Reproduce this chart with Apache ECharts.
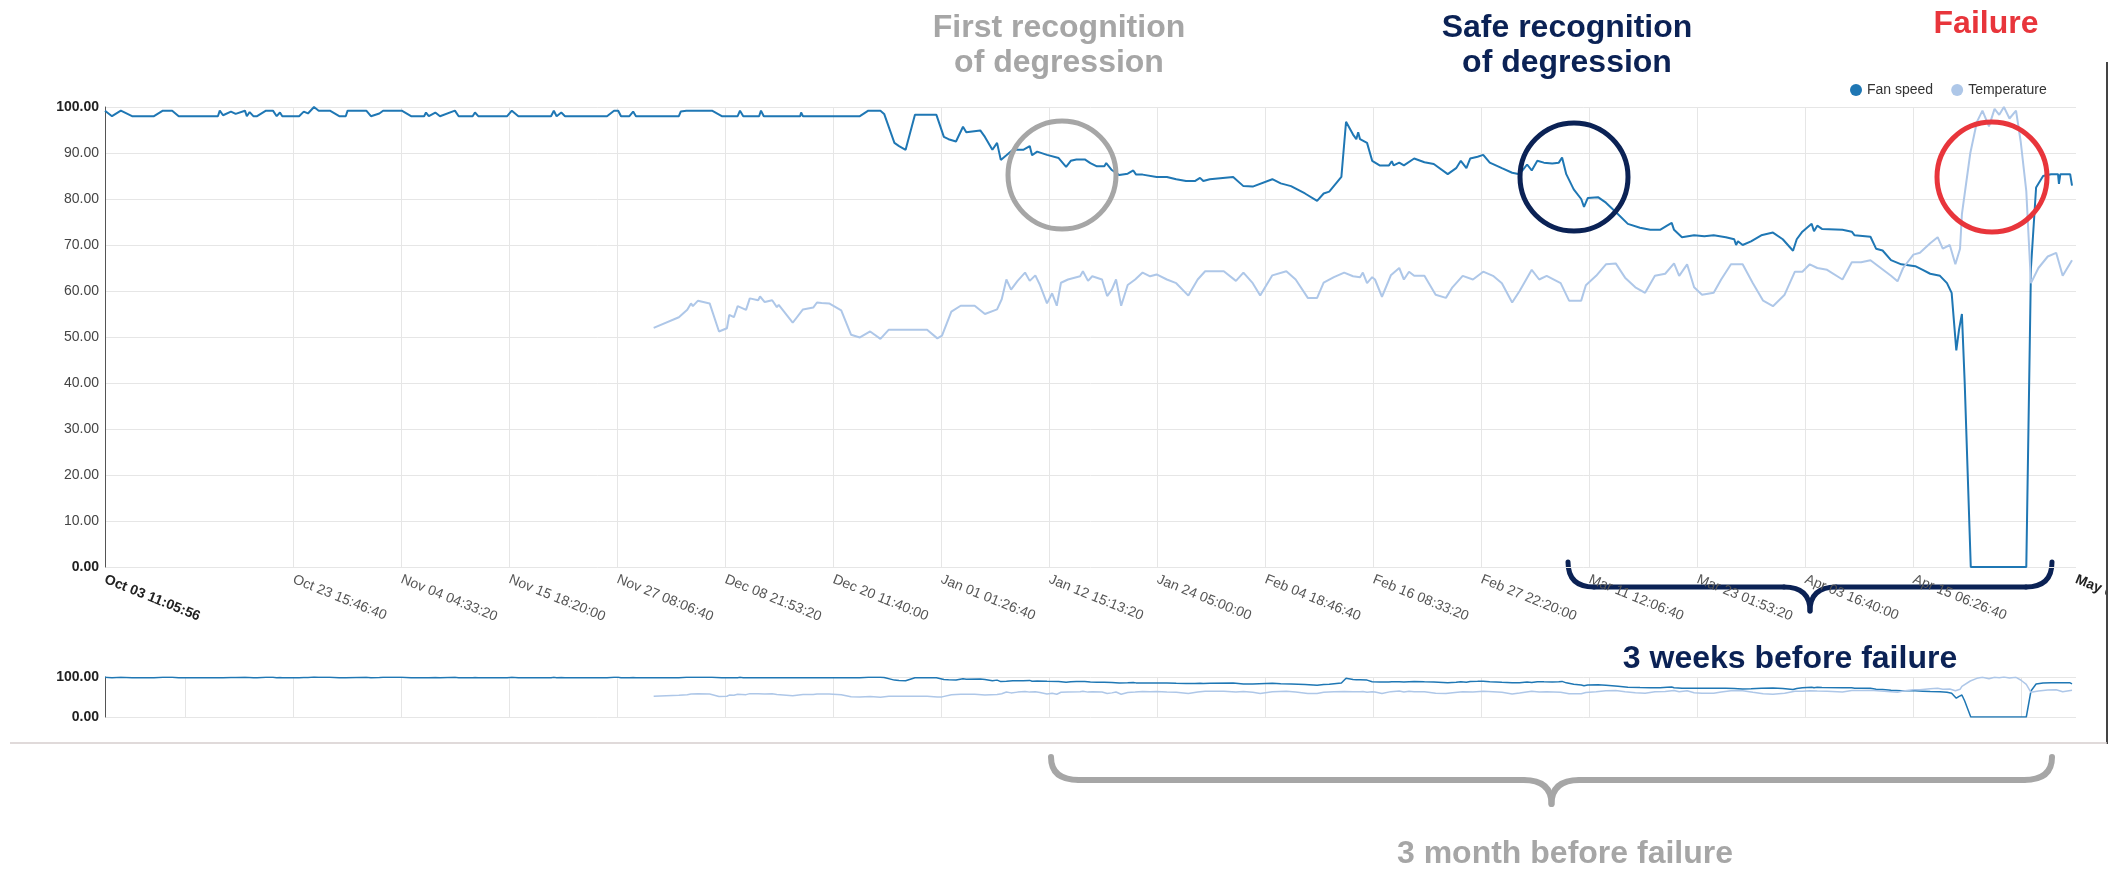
<!DOCTYPE html>
<html><head><meta charset="utf-8">
<script src="https://cdn.jsdelivr.net/npm/echarts@6/dist/echarts.min.js"></script>
<style>html,body{margin:0;padding:0;background:#fff}#c{width:2121px;height:872px}</style>
</head><body><div id="c"></div>
<script>
// x = days since "Oct 03 11:05:56"
const fanSpeed = [[0.0,99.2],[0.75,98],[1.7,99.2],[2.9,98],[5.25,98],[6.2,99.2],[7.2,99.2],[7.9,98],[12.1,98],[12.3,99.2],[12.65,98.2],[13.5,99],[14.0,98.5],[15.0,99.2],[15.2,98],[15.5,98.9],[15.9,98],[16.3,98],[17.25,99.2],[18.0,99.2],[18.4,98],[18.75,98.8],[19.0,98],[20.8,98],[21.3,99],[21.75,98.6],[22.4,100],[22.9,99.2],[24.1,99.2],[25.1,98],[25.8,98],[26.0,99.2],[28.0,99.2],[28.5,98],[29.4,98.6],[29.8,99.2],[31.8,99.2],[32.8,98],[34.2,98],[34.4,98.8],[34.7,98],[35.4,98.8],[35.6,99.2],[35.9,98],[37.5,99.2],[37.9,98],[39.4,98],[39.65,98.8],[40.0,98],[43.1,98],[43.6,99.2],[44.3,98],[47.8,98],[48.1,99.2],[48.4,98],[48.9,98.8],[49.3,98],[53.8,98],[54.55,99.2],[55.0,99.2],[55.3,98],[56.2,98],[56.6,99],[56.9,98],[61.5,98],[61.7,99],[62.3,99.2],[65.05,99.2],[66.1,98],[67.8,98],[68.05,99.2],[68.4,98],[70.1,98],[70.3,99.2],[70.6,98],[74.5,98],[74.6,98.8],[74.8,98],[80.9,98],[81.8,99.2],[83.1,99.2],[83.5,98.5],[84.6,92.2],[85.1,91.5],[85.8,90.7],[86.8,98.3],[89.1,98.3],[89.9,93.5],[90.4,93.0],[91.2,92.5],[91.95,95.7],[92.3,94.5],[92.5,94.9],[93.8,94.9],[94.3,93.5],[95.1,90.7],[95.6,92.2],[96.0,88.5],[96.6,89.5],[97.3,90.7],[98.4,90.7],[99.1,91.5],[99.35,89.5],[99.9,90.3],[100.95,89.6],[102.2,88.9],[103.0,87.0],[103.5,88.3],[104.1,88.6],[105.0,88.6],[105.6,87.8],[106.3,87.1],[107.1,87.1],[107.3,87.8],[107.9,86.3],[108.7,85.2],[109.6,85.5],[110.2,86.2],[110.5,85.3],[111.2,85.3],[112.7,84.8],[113.8,84.8],[114.8,84.3],[115.85,83.9],[116.8,83.9],[117.35,84.6],[117.7,83.9],[118.4,84.3],[120.9,84.8],[122.0,82.8],[123.0,82.7],[125.1,84.3],[126.0,83.4],[127.1,82.8],[128.6,81.2],[129.9,79.6],[130.6,81.2],[131.2,81.6],[132.5,84.8],[133.0,96.8],[133.75,94],[134.1,93.0],[134.3,94.5],[134.5,93.0],[135.25,92.2],[135.8,88.3],[136.6,87.3],[137.6,87.3],[137.9,88.2],[138.1,87.3],[138.7,87.9],[139.2,87.3],[140.3,88.8],[141.4,88.0],[142.4,87.6],[143.9,85.4],[144.8,86.7],[145.3,88.3],[145.9,86.7],[146.3,88.8],[147.1,89.2],[147.7,89.6],[148.4,87.9],[149.7,86.7],[150.8,85.7],[151.6,85.4],[152.4,87.5],[152.9,86.2],[153.5,88.3],[154.2,87.9],[155.1,87.7],[155.8,87.9],[156.15,89.0],[156.6,85.4],[157.4,82.1],[158.2,80.0],[158.5,78.3],[158.9,80.2],[160.0,80.4],[160.85,79.2],[162.15,76.7],[163.2,74.6],[164.5,73.75],[165.6,73.3],[166.65,73.3],[167.4,74.2],[167.9,74.8],[168.15,73.3],[169.0,71.7],[170.3,72.1],[171.4,71.9],[172.4,72.1],[173.7,71.7],[174.6,71.25],[174.8,70.0],[175.0,70.8],[175.5,70.0],[176.4,70.8],[177.5,72.1],[178.75,72.7],[179.8,71.25],[180.9,68.75],[181.3,71.25],[181.9,72.9],[182.9,74.6],[183.15,73.0],[183.5,74.2],[184.0,73.5],[186.2,73.3],[187.2,72.9],[187.5,72.1],[189.2,71.8],[189.8,69.2],[190.5,68.8],[191.4,66.7],[192.5,65.8],[194.0,65.4],[194.8,64.6],[195.6,63.75],[196.65,63.3],[197.4,61.7],[197.9,59.6],[198.4,47.1],[198.7,51.7],[199.0,55.0],[199.3,40.0],[199.95,0],[205.9,0],[206.4,65],[206.95,82.5],[207.7,85.0],[208.55,85.4],[209.3,85.4],[209.4,83.3],[209.55,85.4],[210.6,85.4],[210.8,82.9]];

const temperature = [[58.8,52.0],[61.5,54.3],[62.4,55.9],[62.8,57.3],[63.0,56.7],[63.55,57.9],[64.8,57.3],[65.8,51.2],[66.65,51.9],[66.9,54.8],[67.4,54.3],[67.8,56.7],[68.7,55.9],[69.1,58.4],[70.0,58.0],[70.2,58.8],[70.7,57.6],[71.5,58.0],[72.0,56.5],[72.2,57.0],[73.7,53.1],[74.8,56.0],[75.9,56.4],[76.3,57.5],[76.8,57.4],[77.6,57.3],[78.9,55.8],[79.95,50.5],[80.9,49.9],[82.0,51.2],[83.1,49.6],[84.0,51.6],[88.1,51.6],[89.2,49.7],[89.7,50.3],[90.7,55.5],[91.7,56.8],[93.2,56.8],[94.3,55.0],[95.6,56.0],[96.1,58.2],[96.6,62.5],[97.1,60.3],[97.8,62.2],[98.6,64.0],[99.1,62.2],[99.7,63.4],[100.2,61.3],[100.95,57.3],[101.5,59.5],[102.0,56.8],[102.45,61.8],[103.2,62.5],[104.5,63.2],[104.8,64.3],[105.35,62.2],[105.8,63.2],[106.85,62.5],[107.4,58.9],[107.9,60.3],[108.35,62.5],[108.9,56.8],[109.6,61.3],[110.4,62.5],[111.2,64.0],[112.0,63.2],[112.7,63.6],[113.8,62.5],[114.8,61.7],[116.1,59.0],[117.1,62.5],[117.9,64.3],[119.9,64.3],[121.2,62.2],[122.0,64.0],[123.0,61.7],[123.8,59.0],[125.1,63.4],[126.6,64.3],[127.6,62.5],[128.9,58.5],[129.9,58.5],[130.6,61.8],[131.7,63.0],[132.8,64.0],[133.75,63.2],[134.5,63.0],[134.8,64.0],[135.25,61.7],[135.8,63.0],[136.1,62.5],[136.85,58.75],[137.8,63.4],[138.7,65.0],[139.2,62.5],[139.75,64.2],[140.3,63.3],[141.4,63.3],[142.6,59.2],[143.7,58.5],[144.4,60.8],[145.5,63.3],[146.6,62.5],[147.7,64.2],[148.75,63.3],[149.7,61.7],[150.8,57.5],[151.6,60.0],[152.9,64.6],[153.7,62.5],[154.5,63.3],[156.0,61.7],[156.9,57.9],[158.2,57.9],[158.7,61.25],[159.8,63.3],[160.85,65.8],[161.9,66.0],[162.9,62.9],[164.0,60.8],[165.05,59.6],[166.1,63.3],[167.2,63.75],[168.15,66.0],[168.7,63.3],[169.55,65.8],[170.3,60.8],[171.15,59.2],[172.4,59.6],[173.2,62.5],[174.25,65.8],[175.5,65.8],[176.6,61.7],[177.7,57.9],[178.75,56.7],[180.0,59.2],[181.1,64.2],[181.9,64.2],[182.7,65.8],[183.5,65.0],[184.55,64.6],[186.2,62.5],[187.2,66.25],[188.2,66.25],[189.2,66.7],[190.3,65.0],[191.4,63.3],[192.1,62.1],[192.7,65.0],[193.8,67.9],[194.5,68.3],[195.6,70.4],[196.4,71.7],[196.95,69.2],[197.7,70.0],[198.3,65.8],[198.8,69.2],[199.0,76.7],[199.9,90.0],[200.6,96.7],[201.2,99.2],[201.9,95.8],[202.5,99.6],[203.0,98.3],[203.5,100],[204.1,97.5],[204.8,99.2],[205.3,92.5],[205.9,81.7],[206.4,61.7],[207.2,65.0],[208.2,67.5],[209.1,68.3],[209.8,63.3],[210.8,66.7]];

const seriesNames = ['Fan speed', 'Temperature'];
const minLabel = 'Oct 03 11:05:56';
const maxLabel = 'May 02 16:32:36';
const tickLabels = ['Oct 23 15:46:40','Nov 04 04:33:20','Nov 15 18:20:00','Nov 27 08:06:40','Dec 08 21:53:20','Dec 20 11:40:00','Jan 01 01:26:40','Jan 12 15:13:20','Jan 24 05:00:00','Feb 04 18:46:40','Feb 16 08:33:20','Feb 27 22:20:00','Mar 11 12:06:40','Mar 23 01:53:20','Apr 03 16:40:00','Apr 15 06:26:40'];

// time bookkeeping (seconds after the first sample)
const DAY = 86400, firstTickSec = 1744844, tickStepSec = 1e6, axisEndSec = 18250000;
const tickDays = tickLabels.map((_, i) => (firstTickSec + i * tickStepSec) / DAY);
const maxDay = axisEndSec / DAY;
const labelDays = [0].concat(tickDays, [maxDay]);
const labelTexts = [minLabel].concat(tickLabels, [maxLabel]);
const focusTickDays = [];
for (let k = -1; k <= tickLabels.length; k++) focusTickDays.push((firstTickSec + k * tickStepSec) / DAY);

const FONT = "'Liberation Sans', Arial, sans-serif";
const FAN = '#1f77b4', TEMP = '#aec7e8', NAVY = '#0b2255', GRAY = '#a6a6a6', RED = '#e8353b';

function xLabel(v) {
  for (let i = 0; i < labelDays.length; i++) {
    if (Math.abs(labelDays[i] - v) < 1e-6) {
      return (i === 0 || i === labelDays.length - 1) ? '{b|' + labelTexts[i] + '}' : labelTexts[i];
    }
  }
  return '';
}
function yLabel(v) {
  const s = v.toFixed(2);
  return (v === 0 || v === 100) ? '{b|' + s + '}' : s;
}

function brace(x1, x2, yTop, yMid, yTip, r, color, w) {
  const cx = (x1 + x2) / 2;
  const st = { stroke: color, lineWidth: w, fill: null, lineCap: 'round' };
  return [
    { type: 'bezierCurve', shape: { x1: x1, y1: yTop, cpx1: x1, cpy1: yMid, x2: x1 + r, y2: yMid }, style: st },
    { type: 'line', shape: { x1: x1 + r, y1: yMid, x2: cx - r, y2: yMid }, style: st },
    { type: 'bezierCurve', shape: { x1: cx - r, y1: yMid, cpx1: cx, cpy1: yMid, x2: cx, y2: yTip }, style: st },
    { type: 'bezierCurve', shape: { x1: cx, y1: yTip, cpx1: cx, cpy1: yMid, x2: cx + r, y2: yMid }, style: st },
    { type: 'line', shape: { x1: cx + r, y1: yMid, x2: x2 - r, y2: yMid }, style: st },
    { type: 'bezierCurve', shape: { x1: x2 - r, y1: yMid, cpx1: x2, cpy1: yMid, x2: x2, y2: yTop }, style: st }
  ];
}
function label(text, x, y, color) {
  return { type: 'text', x: x, y: y, z: 100, style: { text: text, fill: color, font: 'bold 32px ' + FONT, textAlign: 'center', textVerticalAlign: 'middle' } };
}
function ring(cx, cy, r, color) {
  return { type: 'circle', z: 100, shape: { cx: cx, cy: cy, r: r }, style: { stroke: color, lineWidth: 5, fill: null } };
}

const chart = echarts.init(document.getElementById('c'), null, { renderer: 'canvas' });
chart.setOption({
  animation: false,
  backgroundColor: '#fff',
  textStyle: { fontFamily: FONT },
  legend: {
    data: seriesNames, left: 1845, top: 78, icon: 'circle', itemWidth: 12, itemHeight: 12, itemGap: 18,
    textStyle: { fontSize: 14, color: '#333', fontFamily: FONT }
  },
  grid: [
    { left: 105, top: 107, width: 1971, height: 460, containLabel: false, outerBoundsMode: 'none' },
    { left: 105, top: 677, width: 1971, height: 40, containLabel: false, outerBoundsMode: 'none' }
  ],
  xAxis: [
    { type: 'value', gridIndex: 0, min: 0, max: maxDay,
      axisLine: { show: false }, axisTick: { show: false, customValues: tickDays },
      splitLine: { show: true, lineStyle: { color: '#e6e6e6', width: 1 } },
      axisLabel: { customValues: labelDays, formatter: xLabel, rotate: -22, margin: 12, fontSize: 14, color: '#555', fontFamily: FONT,
        rich: { b: { fontWeight: 'bold', color: '#222', fontSize: 14, fontFamily: FONT } } } },
    { type: 'value', gridIndex: 1, min: 0, max: maxDay,
      axisLine: { show: false }, axisTick: { show: false, customValues: focusTickDays },
      splitLine: { show: true, lineStyle: { color: '#e6e6e6', width: 1 } },
      axisLabel: { show: false } }
  ],
  yAxis: [
    { type: 'value', gridIndex: 0, min: 0, max: 100, interval: 10,
      axisLine: { show: true, lineStyle: { color: '#555', width: 1 } }, axisTick: { show: false },
      splitLine: { lineStyle: { color: '#e6e6e6', width: 1 } },
      axisLabel: { formatter: yLabel, margin: 6, fontSize: 14, color: '#444', fontFamily: FONT,
        rich: { b: { fontWeight: 'bold', color: '#222', fontSize: 14, fontFamily: FONT } } } },
    { type: 'value', gridIndex: 1, min: 0, max: 100, interval: 100,
      axisLine: { show: true, lineStyle: { color: '#555', width: 1 } }, axisTick: { show: false },
      splitLine: { lineStyle: { color: '#e6e6e6', width: 1 } },
      axisLabel: { formatter: yLabel, margin: 6, fontSize: 14, color: '#444', fontFamily: FONT,
        rich: { b: { fontWeight: 'bold', color: '#222', fontSize: 14, fontFamily: FONT } } } }
  ],
  series: [
    { name: seriesNames[0], type: 'line', xAxisIndex: 0, yAxisIndex: 0, data: fanSpeed, showSymbol: false, symbol: 'circle', color: FAN, lineStyle: { color: FAN, width: 2 } },
    { name: seriesNames[1], type: 'line', xAxisIndex: 0, yAxisIndex: 0, data: temperature, showSymbol: false, symbol: 'circle', color: TEMP, lineStyle: { color: TEMP, width: 2 } },
    { name: seriesNames[0], type: 'line', xAxisIndex: 1, yAxisIndex: 1, data: fanSpeed, showSymbol: false, symbol: 'circle', color: FAN, lineStyle: { color: FAN, width: 1.5 } },
    { name: seriesNames[1], type: 'line', xAxisIndex: 1, yAxisIndex: 1, data: temperature, showSymbol: false, symbol: 'circle', color: TEMP, lineStyle: { color: TEMP, width: 1.5 } }
  ],
  graphic: [
    { type: 'rect', z: 90, shape: { x: 2108, y: 540, width: 13, height: 200 }, style: { fill: '#fff' } },
    { type: 'line', z: 100, shape: { x1: 2107, y1: 62, x2: 2107, y2: 744 }, style: { stroke: '#444', lineWidth: 2 } },
    { type: 'line', z: 100, shape: { x1: 10, y1: 743, x2: 2107, y2: 743 }, style: { stroke: '#d6cece', lineWidth: 1.5 } },
    label('First recognition', 1059, 28, GRAY),
    label('of degression', 1059, 63, GRAY),
    label('Safe recognition', 1567, 28, NAVY),
    label('of degression', 1567, 63, NAVY),
    label('Failure', 1986, 24, RED),
    ring(1062, 175, 54, GRAY),
    ring(1574, 177, 54, NAVY),
    ring(1992, 177, 55, RED),
    { type: 'group', z: 100, children: brace(1568, 2052, 562, 587, 611, 26, NAVY, 5) },
    label('3 weeks before failure', 1790, 659, NAVY),
    { type: 'group', z: 100, children: brace(1051, 2052, 757, 780, 804, 28, GRAY, 6) },
    label('3 month before failure', 1565, 854, GRAY)
  ]
});
</script></body></html>
